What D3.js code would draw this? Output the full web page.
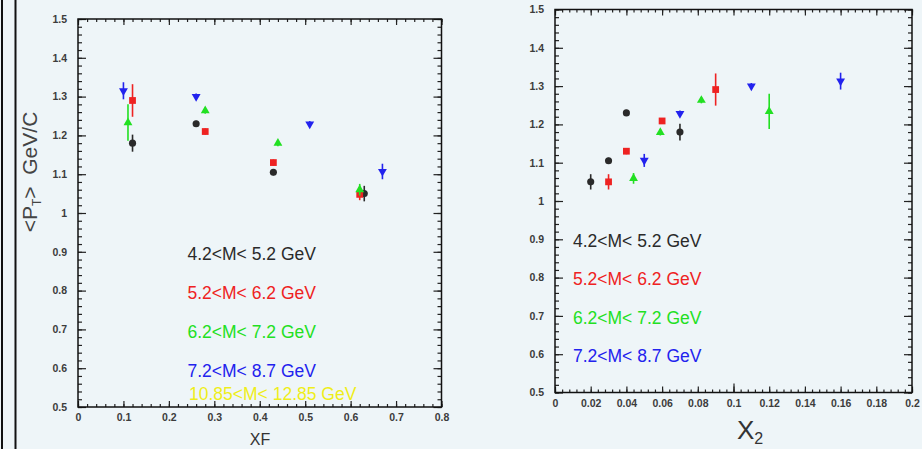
<!DOCTYPE html>
<html>
<head>
<meta charset="utf-8">
<script src="https://cdn.jsdelivr.net/npm/d3@7/dist/d3.min.js"></script>
<style>
    html, body { margin: 0; padding: 0; background: #eef5f8; }
    svg { display: block; }
    .tick text { font-family: "Liberation Sans", Arial, sans-serif; font-weight: bold; font-size: 10.5px; fill: #3c3c3c; }
    .tick line { stroke: #222; stroke-width: 1.2; }
    .legend text { font-family: "Liberation Sans", Arial, sans-serif; font-size: 17.5px; }
</style>
</head>
<body>
<div id="chart"></div>
<script>
// mass bins (legend)
const massLabels = ["4.2<M< 5.2 GeV", "5.2<M< 6.2 GeV", "6.2<M< 7.2 GeV", "7.2<M< 8.7 GeV", "10.85<M< 12.85 GeV"];
const massColors = ["#2a2a2a", "#ee2222", "#22e022", "#2222ee", "#eeee1a"];

// <pT> vs XF
const xfM1 = [0.12, 0.26, 0.43, 0.63];
const xfPtM1 = [1.18, 1.23, 1.105, 1.05];
const xfErrM1 = [0.022, 0.008, 0.008, 0.02];
const xfM2 = [0.12, 0.28, 0.43, 0.62];
const xfPtM2 = [1.29, 1.21, 1.13, 1.048];
const xfErrM2 = [0.042, 0.008, 0.008, 0.015];
const xfM3 = [0.11, 0.28, 0.44, 0.62];
const xfPtM3 = [1.233, 1.264, 1.18, 1.06];
const xfErrM3 = [0.047, 0.008, 0.008, 0.015];
const xfM4 = [0.10, 0.26, 0.51, 0.67];
const xfPtM4 = [1.315, 1.30, 1.229, 1.107];
const xfErrM4 = [0.022, 0.008, 0.008, 0.02];

// <pT> vs X2
const x2M1 = [0.02, 0.03, 0.04, 0.07];
const x2PtM1 = [1.05, 1.105, 1.23, 1.18];
const x2ErrM1 = [0.02, 0.008, 0.008, 0.022];
const x2M2 = [0.03, 0.04, 0.06, 0.09];
const x2PtM2 = [1.05, 1.13, 1.209, 1.291];
const x2ErrM2 = [0.02, 0.008, 0.008, 0.042];
const x2M3 = [0.044, 0.059, 0.082, 0.12];
const x2PtM3 = [1.059, 1.179, 1.263, 1.234];
const x2ErrM3 = [0.014, 0.008, 0.008, 0.046];
const x2M4 = [0.05, 0.07, 0.11, 0.16];
const x2PtM4 = [1.106, 1.228, 1.30, 1.313];
const x2ErrM4 = [0.017, 0.008, 0.008, 0.022];

// ticks
const yTicks = [0.5, 0.6, 0.7, 0.8, 0.9, 1, 1.1, 1.2, 1.3, 1.4, 1.5];
const xfTicks = [0, 0.1, 0.2, 0.3, 0.4, 0.5, 0.6, 0.7, 0.8];
const x2Ticks = [0, 0.02, 0.04, 0.06, 0.08, 0.1, 0.12, 0.14, 0.16, 0.18, 0.2];

const width = 922, height = 449;
const fmt = d => String(+d.toFixed(3));
const markerTypes = [
    d3.symbol().type(d3.symbolCircle).size(40),
    d3.symbol().type(d3.symbolSquare).size(46),
    d3.symbol().type(d3.symbolTriangle).size(34),
    d3.symbol().type(d3.symbolTriangle).size(34)
];

const svg = d3.select("#chart").append("svg")
    .attr("width", width)
    .attr("height", height);

svg.append("rect").attr("width", width).attr("height", height).attr("fill", "#eef5f8");
// double line on the left border
svg.append("line").attr("x1", 2).attr("x2", 2).attr("y1", 0).attr("y2", height).attr("stroke", "#111").attr("stroke-width", 2);
svg.append("line").attr("x1", 15.5).attr("x2", 15.5).attr("y1", 0).attr("y2", height).attr("stroke", "#111").attr("stroke-width", 2);

const drawPanel = function (box, xTicks, xMinorStep, series, legendX, legendY, legendGap, legendCount) {
    const x = d3.scaleLinear().domain([xTicks[0], xTicks[xTicks.length - 1]]).range([box.x0, box.x1]);
    const y = d3.scaleLinear().domain([0.5, 1.5]).range([box.y1, box.y0]);

    const xMinor = d3.range(0, Math.round((x.domain()[1]) / xMinorStep) + 1).map(i => i * xMinorStep);
    const yMinor = d3.range(0, 51).map(i => 0.5 + i * 0.02);

    const g = svg.append("g");

    // minor ticks on all 4 sides
    g.append("g").attr("transform", `translate(0,${box.y1})`)
        .call(d3.axisBottom(x).tickValues(xMinor).tickSize(-3).tickFormat(""));
    g.append("g").attr("transform", `translate(0,${box.y0})`)
        .call(d3.axisTop(x).tickValues(xMinor).tickSize(-3).tickFormat(""));
    g.append("g").attr("transform", `translate(${box.x0},0)`)
        .call(d3.axisLeft(y).tickValues(yMinor).tickSize(-4).tickFormat(""));
    g.append("g").attr("transform", `translate(${box.x1},0)`)
        .call(d3.axisRight(y).tickValues(yMinor).tickSize(-4).tickFormat(""));

    // major ticks
    g.append("g").attr("transform", `translate(0,${box.y1})`)
        .call(d3.axisBottom(x).tickValues(xTicks).tickSize(-6).tickPadding(7).tickFormat(fmt));
    g.append("g").attr("transform", `translate(0,${box.y0})`)
        .call(d3.axisTop(x).tickValues(xTicks).tickSize(-6).tickFormat(""));
    g.append("g").attr("transform", `translate(${box.x0},0)`)
        .call(d3.axisLeft(y).tickValues(yTicks).tickSize(-8).tickPadding(11).tickFormat(fmt));
    g.append("g").attr("transform", `translate(${box.x1},0)`)
        .call(d3.axisRight(y).tickValues(yTicks).tickSize(-8).tickFormat(""));

    g.selectAll(".domain").remove();

    g.append("rect")
        .attr("x", box.x0).attr("y", box.y0)
        .attr("width", box.x1 - box.x0).attr("height", box.y1 - box.y0)
        .attr("fill", "none").attr("stroke", "#111").attr("stroke-width", 1.5);

    // data points with error bars
    series.forEach((s, k) => {
        const pts = s.xs.map((v, i) => ({x: v, y: s.ys[i], e: s.es[i]}));
        const sg = g.append("g").attr("class", "series-" + k);
        sg.selectAll("line").data(pts).enter().append("line")
            .attr("x1", d => x(d.x)).attr("x2", d => x(d.x))
            .attr("y1", d => y(d.y - d.e)).attr("y2", d => y(d.y + d.e))
            .attr("stroke", massColors[k]).attr("stroke-width", 1.6);
        sg.selectAll("path").data(pts).enter().append("path")
            .attr("d", markerTypes[k])
            .attr("transform", d => `translate(${x(d.x)},${y(d.y)})` + (k === 3 ? " rotate(180)" : ""))
            .attr("fill", massColors[k]);
    });

    // legend text
    const lg = g.append("g").attr("class", "legend");
    lg.selectAll("text").data(massLabels.slice(0, legendCount)).enter().append("text")
        .attr("x", (d, i) => legendX + (i === 4 ? 1.5 : 0))
        .attr("y", (d, i) => legendY + i * legendGap - (i === 4 ? 16 : 0))
        .attr("fill", (d, i) => massColors[i])
        .text(d => d);

    return g;
};

const left = drawPanel({x0: 78, x1: 441.5, y0: 19, y1: 407}, xfTicks, 0.02, [
    {xs: xfM1, ys: xfPtM1, es: xfErrM1},
    {xs: xfM2, ys: xfPtM2, es: xfErrM2},
    {xs: xfM3, ys: xfPtM3, es: xfErrM3},
    {xs: xfM4, ys: xfPtM4, es: xfErrM4}
], 187.5, 260, 38.9, 5);

const right = drawPanel({x0: 555, x1: 912, y0: 9.5, y1: 392.5}, x2Ticks, 0.004, [
    {xs: x2M1, ys: x2PtM1, es: x2ErrM1},
    {xs: x2M2, ys: x2PtM2, es: x2ErrM2},
    {xs: x2M3, ys: x2PtM3, es: x2ErrM3},
    {xs: x2M4, ys: x2PtM4, es: x2ErrM4}
], 573, 246.5, 38.6, 4);

// longer tick at 0.1 on the X2 axis
right.append("g").attr("transform", "translate(0,392.5)")
    .call(d3.axisBottom(d3.scaleLinear().domain([0, 0.2]).range([555, 912])).tickValues([0.1]).tickSize(-9).tickFormat(""))
    .select(".domain").remove();

// axis titles
const yTitle = svg.append("text")
    .attr("transform", "translate(37,172) rotate(-90)")
    .attr("text-anchor", "middle")
    .attr("font-family", "Liberation Sans, Arial, sans-serif")
    .attr("font-size", 21)
    .attr("fill", "#444");
yTitle.append("tspan").text("<P");
yTitle.append("tspan").attr("font-size", 12).attr("dy", 4).text("T");
yTitle.append("tspan").attr("dy", -4).attr("xml:space", "preserve").text(">\u00a0\u00a0GeV/C");

svg.append("text")
    .attr("x", 260).attr("y", 445)
    .attr("text-anchor", "middle")
    .attr("font-family", "Liberation Sans, Arial, sans-serif")
    .attr("font-size", 16)
    .attr("fill", "#333")
    .text("XF");

const x2Title = svg.append("text")
    .attr("x", 750).attr("y", 439)
    .attr("text-anchor", "middle")
    .attr("font-family", "Liberation Sans, Arial, sans-serif")
    .attr("font-size", 26)
    .attr("fill", "#333");
x2Title.append("tspan").text("X");
x2Title.append("tspan").attr("font-size", 16).attr("dy", 5).text("2");
</script>
</body>
</html>
